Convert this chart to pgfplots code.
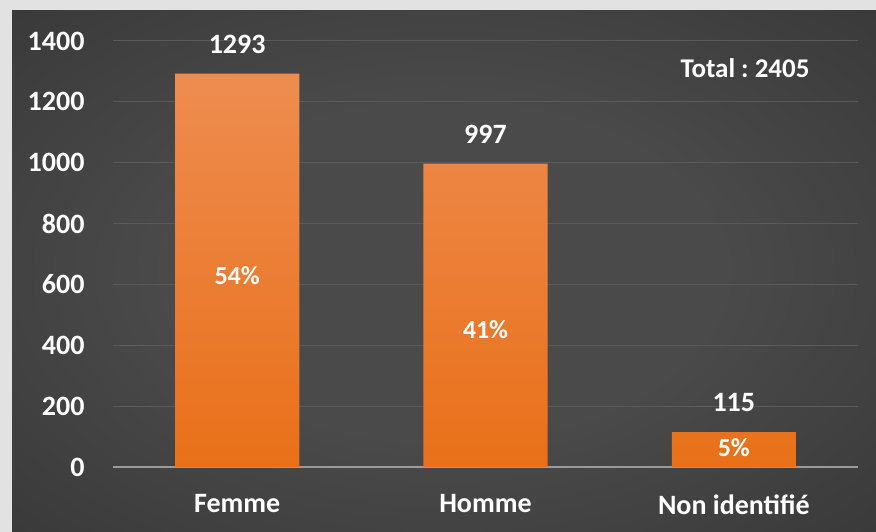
\documentclass[border=0pt]{standalone}
\usepackage{pgfplots}
\pgfplotsset{compat=1.18}
\usepackage{fontspec}
\setmainfont{Carlito}
\frenchspacing
\definecolor{frame}{HTML}{E2E2E2}
\definecolor{bgA}{HTML}{4A4A4A}
\definecolor{bgB}{HTML}{363636}
\definecolor{bgC}{HTML}{1C1C1C}
\definecolor{gridc}{HTML}{5A5A5A}
\definecolor{axisc}{HTML}{9A9A9A}
\definecolor{barTop}{RGB}{238,140,80}
\definecolor{barBot}{RGB}{233,112,25}
\pgfdeclareradialshading{bgshade}{\pgfpoint{0bp}{0bp}}{color(0bp)=(bgA); color(16bp)=(bgA); color(40bp)=(bgB); color(72bp)=(bgC)}
\begin{document}
\begin{tikzpicture}[x=1pt,y=1pt]
\fill[frame] (0,0) rectangle (876,532);
\shade[shading=bgshade] (12,0) rectangle (876,521);
\begin{axis}[
  at={(113pt,65pt)}, anchor=south west,
  scale only axis, width=745pt, height=426pt,
  xmin=-0.5, xmax=2.5, ymin=0, ymax=1400,
  axis line style={draw=none}, tick style={draw=none},
  ytick={0,200,400,600,800,1000,1200,1400},
  xtick={0,1,2}, xticklabels={Femme,Homme,Non identifié},
  ymajorgrids, grid style={gridc, line width=1pt},
  extra y ticks={0}, extra y tick labels={},
  extra y tick style={grid style={axisc, line width=1.8pt}},
  /pgf/number format/assume math mode=true,
  /pgf/number format/1000 sep={},
  ticklabel style={white, font=\bfseries\fontsize{28}{32}\selectfont},
  yticklabel style={xshift=-25pt},
  xticklabel style={yshift=-24pt},
  clip=false,
]
\addplot[ybar, bar width=0.5, draw=none, top color=barTop, bottom color=barBot,
  nodes near coords, nodes near coords align=center,
  nodes near coords style={white, font=\bfseries\fontsize{28}{32}\selectfont, anchor=center, yshift=29pt,
   /pgf/number format/1000 sep={}}]
  coordinates {(0,1293) (1,997) (2,115)};
\addplot[draw=none, mark=none, point meta=explicit symbolic,
  nodes near coords, nodes near coords style={white, font=\bfseries\fontsize{26}{30}\selectfont, anchor=center}]
  coordinates {(0,628) [54\%] (1,450) [41\%] (2,62) [5\%]};
\end{axis}
\node[white, font=\bfseries\fontsize{27}{30}\selectfont] at (745,464) {Total : 2405};
\end{tikzpicture}
\end{document}
